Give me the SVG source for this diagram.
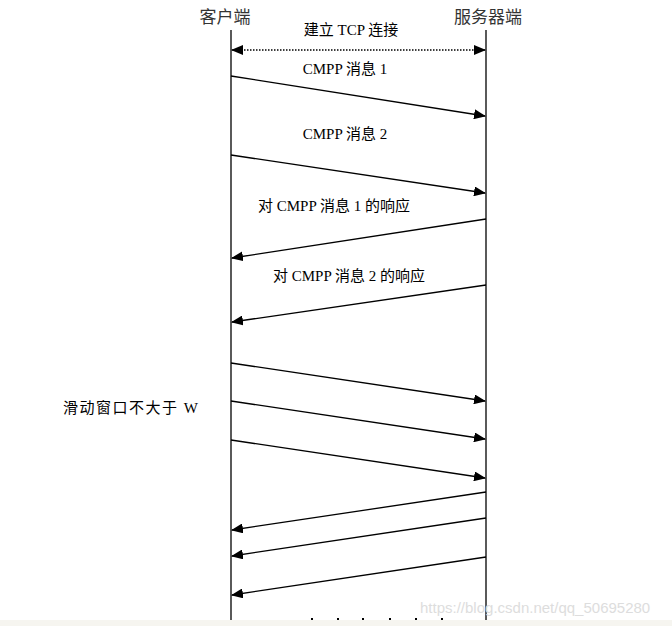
<svg xmlns="http://www.w3.org/2000/svg" width="672" height="626" viewBox="0 0 672 626">
<style>
.t{font-family:"Liberation Serif","Noto Sans CJK SC",serif;fill:#000;}
.h{font-size:17px;fill:#333;}
.m{font-size:15px;}
.life{stroke:#000;stroke-width:1.3;}
.msg{stroke:#000;stroke-width:1.3;fill:none;marker-end:url(#ah);}
.wm{font-family:"Liberation Sans",sans-serif;font-size:15px;fill:#ddd;}
</style>
<defs>
<marker id="ah" viewBox="0 0 12 10" refX="11" refY="5" markerWidth="12" markerHeight="10" markerUnits="userSpaceOnUse" orient="auto-start-reverse">
<path d="M0,0 L12,5 L0,10 z" fill="#000"/>
</marker>
</defs>
<rect width="672" height="626" fill="#fff"/>
<rect x="0" y="620" width="672" height="6" fill="#f6f5f0"/>
<g id="client">
<text class="t h" x="225" y="23" text-anchor="middle">客户端</text>
<line class="life" x1="231" y1="30" x2="231" y2="620"/>
</g>
<g id="server">
<text class="t h" x="488" y="23" text-anchor="middle">服务器端</text>
<line class="life" x1="486" y1="30" x2="486" y2="620"/>
</g>
<g id="window-label">
<text class="t m" x="63" y="413" letter-spacing="1.5">滑动窗口不大于 W</text>
</g>
<g id="connectors">
<line x1="232" y1="50" x2="485" y2="50" stroke="#000" stroke-width="1.3" stroke-dasharray="1.5,1.5" marker-start="url(#ah)" marker-end="url(#ah)"/>
<line class="msg" x1="231" y1="76" x2="485" y2="116"/>
<line class="msg" x1="231" y1="155" x2="485" y2="193"/>
<line class="msg" x1="486" y1="219" x2="232" y2="258"/>
<line class="msg" x1="486" y1="285" x2="232" y2="322"/>
<line class="msg" x1="231" y1="363" x2="485" y2="401"/>
<line class="msg" x1="231" y1="401" x2="485" y2="439"/>
<line class="msg" x1="231" y1="440" x2="485" y2="478"/>
<line class="msg" x1="486" y1="492" x2="232" y2="530"/>
<line class="msg" x1="486" y1="518" x2="232" y2="556"/>
<line class="msg" x1="486" y1="557" x2="232" y2="595"/>
</g>
<g id="labels">
<text class="t m" x="351" y="35" text-anchor="middle">建立 TCP 连接</text>
<text class="t m" x="345" y="74" text-anchor="middle">CMPP 消息 1</text>
<text class="t m" x="345" y="139" text-anchor="middle">CMPP 消息 2</text>
<text class="t m" x="334" y="211" text-anchor="middle">对 CMPP 消息 1 的响应</text>
<text class="t m" x="349" y="281" text-anchor="middle">对 CMPP 消息 2 的响应</text>
</g>
<g id="dots" fill="#000">
<rect x="311" y="618" width="2" height="2"/>
<rect x="337" y="618" width="2" height="2"/>
<rect x="362" y="618" width="2" height="2"/>
<rect x="389" y="618" width="2" height="2"/>
<rect x="415" y="618" width="2" height="2"/>
<rect x="441" y="618" width="2" height="2"/>
</g>
<text class="wm" x="420" y="613">https://blog.csdn.net/qq_50695280</text>
</svg>
